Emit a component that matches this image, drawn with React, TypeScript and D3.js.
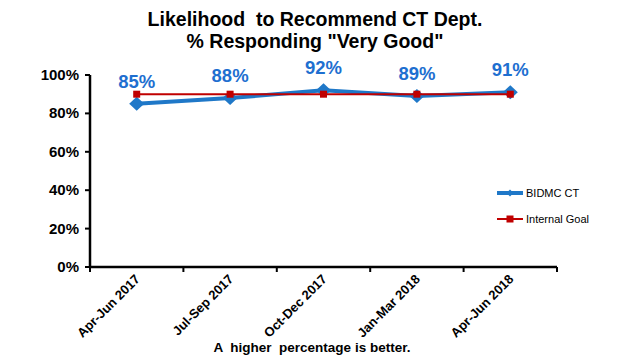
import React from "react";
import * as d3 from "d3";

const categories = ["Apr-Jun 2017", "Jul-Sep 2017", "Oct-Dec 2017", "Jan-Mar 2018", "Apr-Jun 2018"];
const bidmcValues = [85, 88, 92, 89, 91];
const goalValues = [90, 90, 90, 90, 90];
const yTicks = [0, 20, 40, 60, 80, 100];
const titleLines = ["Likelihood  to Recommend CT Dept.", "% Responding \"Very Good\""];
const footNote = "A  higher  percentage is better.";
const legendLabels = ["BIDMC CT", "Internal Goal"];

const W = 620;
const H = 358;
const FONT = "Arial, 'Liberation Sans', sans-serif";
const BLUE = "#1F78C8";
const LABEL_BLUE = "#1E6FD0";
const RED = "#C00000";

function diamondPath(cxv: number, cyv: number, hw: number, hh: number) {
  return `M${cxv - hw},${cyv}L${cxv},${cyv - hh}L${cxv + hw},${cyv}L${cxv},${cyv + hh}Z`;
}

export default function App() {
  const left = 90, right = 557, top = 75, bottom = 267;
  const x = d3.scaleBand<string>().domain(categories).range([left, right]);
  const y = d3.scaleLinear().domain([0, 100]).range([bottom, top]);
  const cx = (c: string) => (x(c) as number) + x.bandwidth() / 2;

  const line = d3
    .line<number>()
    .x((_, i) => cx(categories[i]))
    .y((d) => y(d));

  const boundaries = [...categories.map((c) => x(c) as number), right];

  return (
    <svg width={W} height={H} style={{ position: "absolute", left: 0, top: 0, background: "#fff" }}>
      <rect width={W} height={H} fill="#fff" />
      {titleLines.map((t, i) => (
        <text key={t} x={315} y={26 + i * 22} textAnchor="middle" fontFamily={FONT} fontWeight="bold" fontSize={19.5} fill="#000" style={{ whiteSpace: "pre" }}>
          {t}
        </text>
      ))}

      {/* y axis */}
      <line x1={left} x2={left} y1={top} y2={bottom} stroke="#000" strokeWidth={2.5} />
      {yTicks.map((t) => (
        <g key={t}>
          <line x1={left - 5} x2={left} y1={y(t)} y2={y(t)} stroke="#000" strokeWidth={2} />
          <text x={left - 11} y={y(t) + 5} textAnchor="end" fontFamily={FONT} fontWeight="bold" fontSize={15} fill="#000">
            {t}%
          </text>
        </g>
      ))}

      {/* x axis */}
      <line x1={left} x2={right} y1={bottom} y2={bottom} stroke="#000" strokeWidth={2.5} />
      {boundaries.map((b, i) => (
        <line key={i} x1={b} x2={b} y1={bottom} y2={bottom + 5} stroke="#000" strokeWidth={2} />
      ))}
      {categories.map((c) => (
        <text
          key={c}
          transform={`translate(${cx(c) + 4},${bottom + 13}) rotate(-45)`}
          textAnchor="end"
          fontFamily={FONT}
          fontWeight="bold"
          fontSize={13}
          fill="#000"
        >
          {c}
        </text>
      ))}

      {/* BIDMC series */}
      <path d={line(bidmcValues) as string} fill="none" stroke={BLUE} strokeWidth={4} />
      {bidmcValues.map((v, i) => (
        <path key={i} d={diamondPath(cx(categories[i]), y(v), 7.5, 7)} fill={BLUE} />
      ))}

      {/* Goal series */}
      <path d={line(goalValues) as string} fill="none" stroke={RED} strokeWidth={2} />
      {goalValues.map((v, i) => (
        <rect key={i} x={cx(categories[i]) - 3.5} y={y(v) - 3.5} width={7} height={7} fill={RED} />
      ))}

      {/* data labels */}
      {bidmcValues.map((v, i) => (
        <text key={i} x={cx(categories[i])} y={y(v) - 16} textAnchor="middle" fontFamily={FONT} fontWeight="bold" fontSize={18.5} fill={LABEL_BLUE}>
          {v}%
        </text>
      ))}

      {/* legend */}
      <g>
        <line x1={497} x2={523} y1={193} y2={193} stroke={BLUE} strokeWidth={4} />
        <path d={diamondPath(510, 193, 3.5, 3.5)} fill={BLUE} />
        <text x={526} y={197} fontFamily={FONT} fontSize={11} fill="#000">{legendLabels[0]}</text>
        <line x1={497} x2={523} y1={219} y2={219} stroke={RED} strokeWidth={2} />
        <rect x={506.5} y={215.5} width={7} height={7} fill={RED} />
        <text x={526} y={223} fontFamily={FONT} fontSize={11} fill="#000">{legendLabels[1]}</text>
      </g>

      <text x={312} y={352} textAnchor="middle" fontFamily={FONT} fontWeight="bold" fontSize={13.5} fill="#000" style={{ whiteSpace: "pre" }}>
        {footNote}
      </text>
    </svg>
  );
}
